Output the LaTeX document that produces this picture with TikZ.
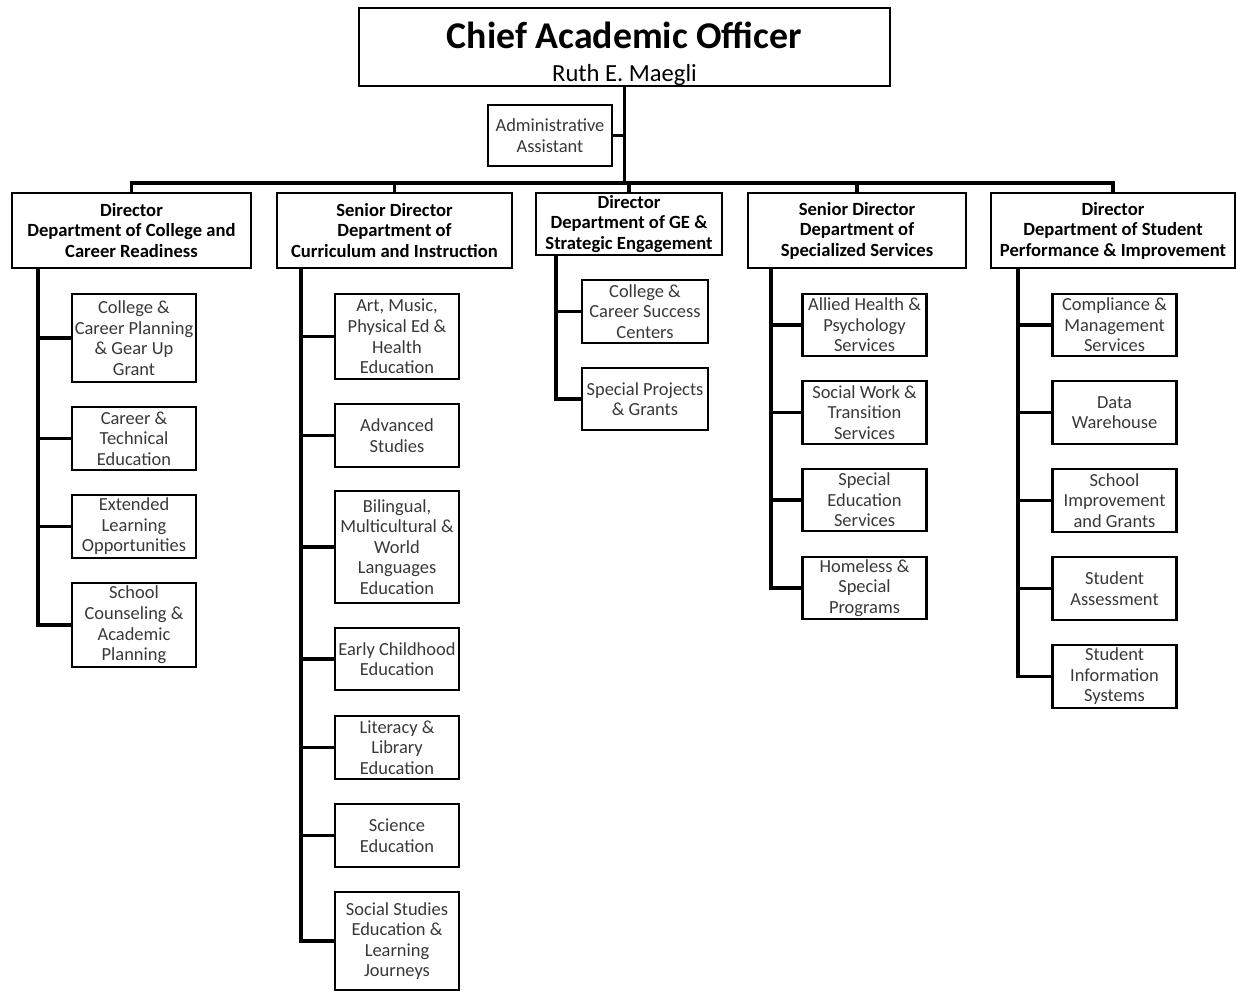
\documentclass[tikz,border=0pt]{standalone}
\usepackage{fontspec}
\setmainfont{Carlito}

\tikzset{
  box/.style={draw, line width=1.5pt, align=center, inner sep=0pt,
    font=\fontsize{10.5}{11.7}\selectfont},
  dept/.style={box, font=\fontsize{10.6}{11.7}\selectfont\bfseries, minimum height=1.5cm},
  unit/.style={box, text=black!78, minimum width=2.48cm, minimum height=1.26cm},
  link/.style={line width=1.8pt},
}

\begin{document}
\begin{tikzpicture}[x=0.02cm, y=-0.02cm]
    \useasboundingbox (0,0) rectangle (1237,991);
    % Top of the chart
    \node[box, minimum width=10.62cm, minimum height=1.56cm] (cao) at (624.5,47)
      {{\fontsize{21.5}{22}\selectfont\bfseries\rule{0pt}{22.5pt}Chief Academic Officer}\\[7pt]
       {\fontsize{14}{14}\selectfont Ruth E. Maegli}};
    \node[unit, minimum height=1.22cm] (admin) at (550,135.5) {Administrative\\Assistant};
    % Directors
    \node[dept, minimum width=4.78cm] (d1) at (131.5,230.5)
      {Director\\Department of College and\\Career Readiness};
    \node[dept, minimum width=4.7cm] (d2) at (394.5,230.5)
      {Senior Director\\Department of\\Curriculum and Instruction};
    \node[dept, minimum width=3.72cm, minimum height=1.24cm] (d3) at (629,224)
      {Director\\Department of GE \&\\Strategic Engagement};
    \node[dept, minimum width=4.36cm] (d4) at (857,230.5)
      {Senior Director\\Department of\\Specialized Services};
    \node[dept, minimum width=4.88cm] (d5) at (1113,230.5)
      {Director\\Department of Student\\Performance \& Improvement};
    % College and Career Readiness
    \node[unit, minimum height=1.76cm] (cr1) at (134,338)
      {College \&\\Career Planning\\\& Gear Up\\Grant};
    \node[unit] (cr2) at (134,438.5) {Career \&\\Technical\\Education};
    \node[unit] (cr3) at (134,526.5) {Extended\\Learning\\Opportunities};
    \node[unit, minimum height=1.68cm] (cr4) at (134,625)
      {School\\Counseling \&\\Academic\\Planning};
    % Curriculum and Instruction
    \node[unit, minimum height=1.7cm] (ci1) at (397,336.5)
      {Art, Music,\\Physical Ed \&\\Health\\Education};
    \node[unit] (ci2) at (397,435.5) {Advanced\\Studies};
    \node[unit, minimum height=2.24cm] (ci3) at (397,547)
      {Bilingual,\\Multicultural \&\\World\\Languages\\Education};
    \node[unit, minimum height=1.24cm] (ci4) at (397,659) {Early Childhood\\Education};
    \node[unit] (ci5) at (397,747.5) {Literacy \&\\Library\\Education};
    \node[unit] (ci6) at (397,835.5) {Science\\Education};
    \node[unit, minimum height=1.96cm] (ci7) at (397,941)
      {Social Studies\\Education \&\\Learning\\Journeys};
    % GE and Strategic Engagement
    \node[unit, minimum width=2.52cm] (cg1) at (645,311.5)
      {College \&\\Career Success\\Centers};
    \node[unit, minimum width=2.52cm, minimum height=1.24cm] (cg2) at (645,399)
      {Special Projects\\\& Grants};
    % Specialized Services
    \node[unit, minimum height=1.24cm] (cs1) at (864.5,325)
      {Allied Health \&\\Psychology\\Services};
    \node[unit] (cs2) at (864.5,412.5) {Social Work \&\\Transition\\Services};
    \node[unit, minimum height=1.24cm] (cs3) at (864.5,500)
      {Special\\Education\\Services};
    \node[unit, minimum height=1.24cm] (cs4) at (864.5,588)
      {Homeless \&\\Special\\Programs};
    % Student Performance and Improvement
    \node[unit, minimum height=1.24cm] (cp1) at (1114.5,325)
      {Compliance \&\\Management\\Services};
    \node[unit] (cp2) at (1114.5,412.5) {Data\\Warehouse};
    \node[unit] (cp3) at (1114.5,500.5) {School\\Improvement\\and Grants};
    \node[unit] (cp4) at (1114.5,588.5) {Student\\Assessment};
    \node[unit] (cp5) at (1114.5,676.5) {Student\\Information\\Systems};
    % Trunk, bus and drops
    \coordinate (bus) at (624.5,183);
    \draw[link] (cao.south) -- (bus);
    \draw[link] (admin.east) -- (admin.east -| cao.south);
    \draw[link] (d1.north) |- (bus) -| (d5.north);
    \foreach \d in {d2,d3,d4}
      \draw[link] (\d.north) -- (\d.north |- bus);
    % Spines
    \coordinate (s1) at (38,268);
    \coordinate (s2) at (301,268);
    \coordinate (s3) at (556,255);
    \coordinate (s4) at (771,268);
    \coordinate (s5) at (1018,268);
    \draw[link] (s1) |- (cr4.west);
    \draw[link] (s2) |- (ci7.west);
    \draw[link] (s3) |- (cg2.west);
    \draw[link] (s4) |- (cs4.west);
    \draw[link] (s5) |- (cp5.west);
    \foreach \u/\s in {cr1/s1,cr2/s1,cr3/s1,ci1/s2,ci2/s2,ci3/s2,ci4/s2,ci5/s2,ci6/s2,
                       cg1/s3,cs1/s4,cs2/s4,cs3/s4,cp1/s5,cp2/s5,cp3/s5,cp4/s5}
      \draw[link] (\u.west) -- (\u.west -| \s);
\end{tikzpicture}
\end{document}
